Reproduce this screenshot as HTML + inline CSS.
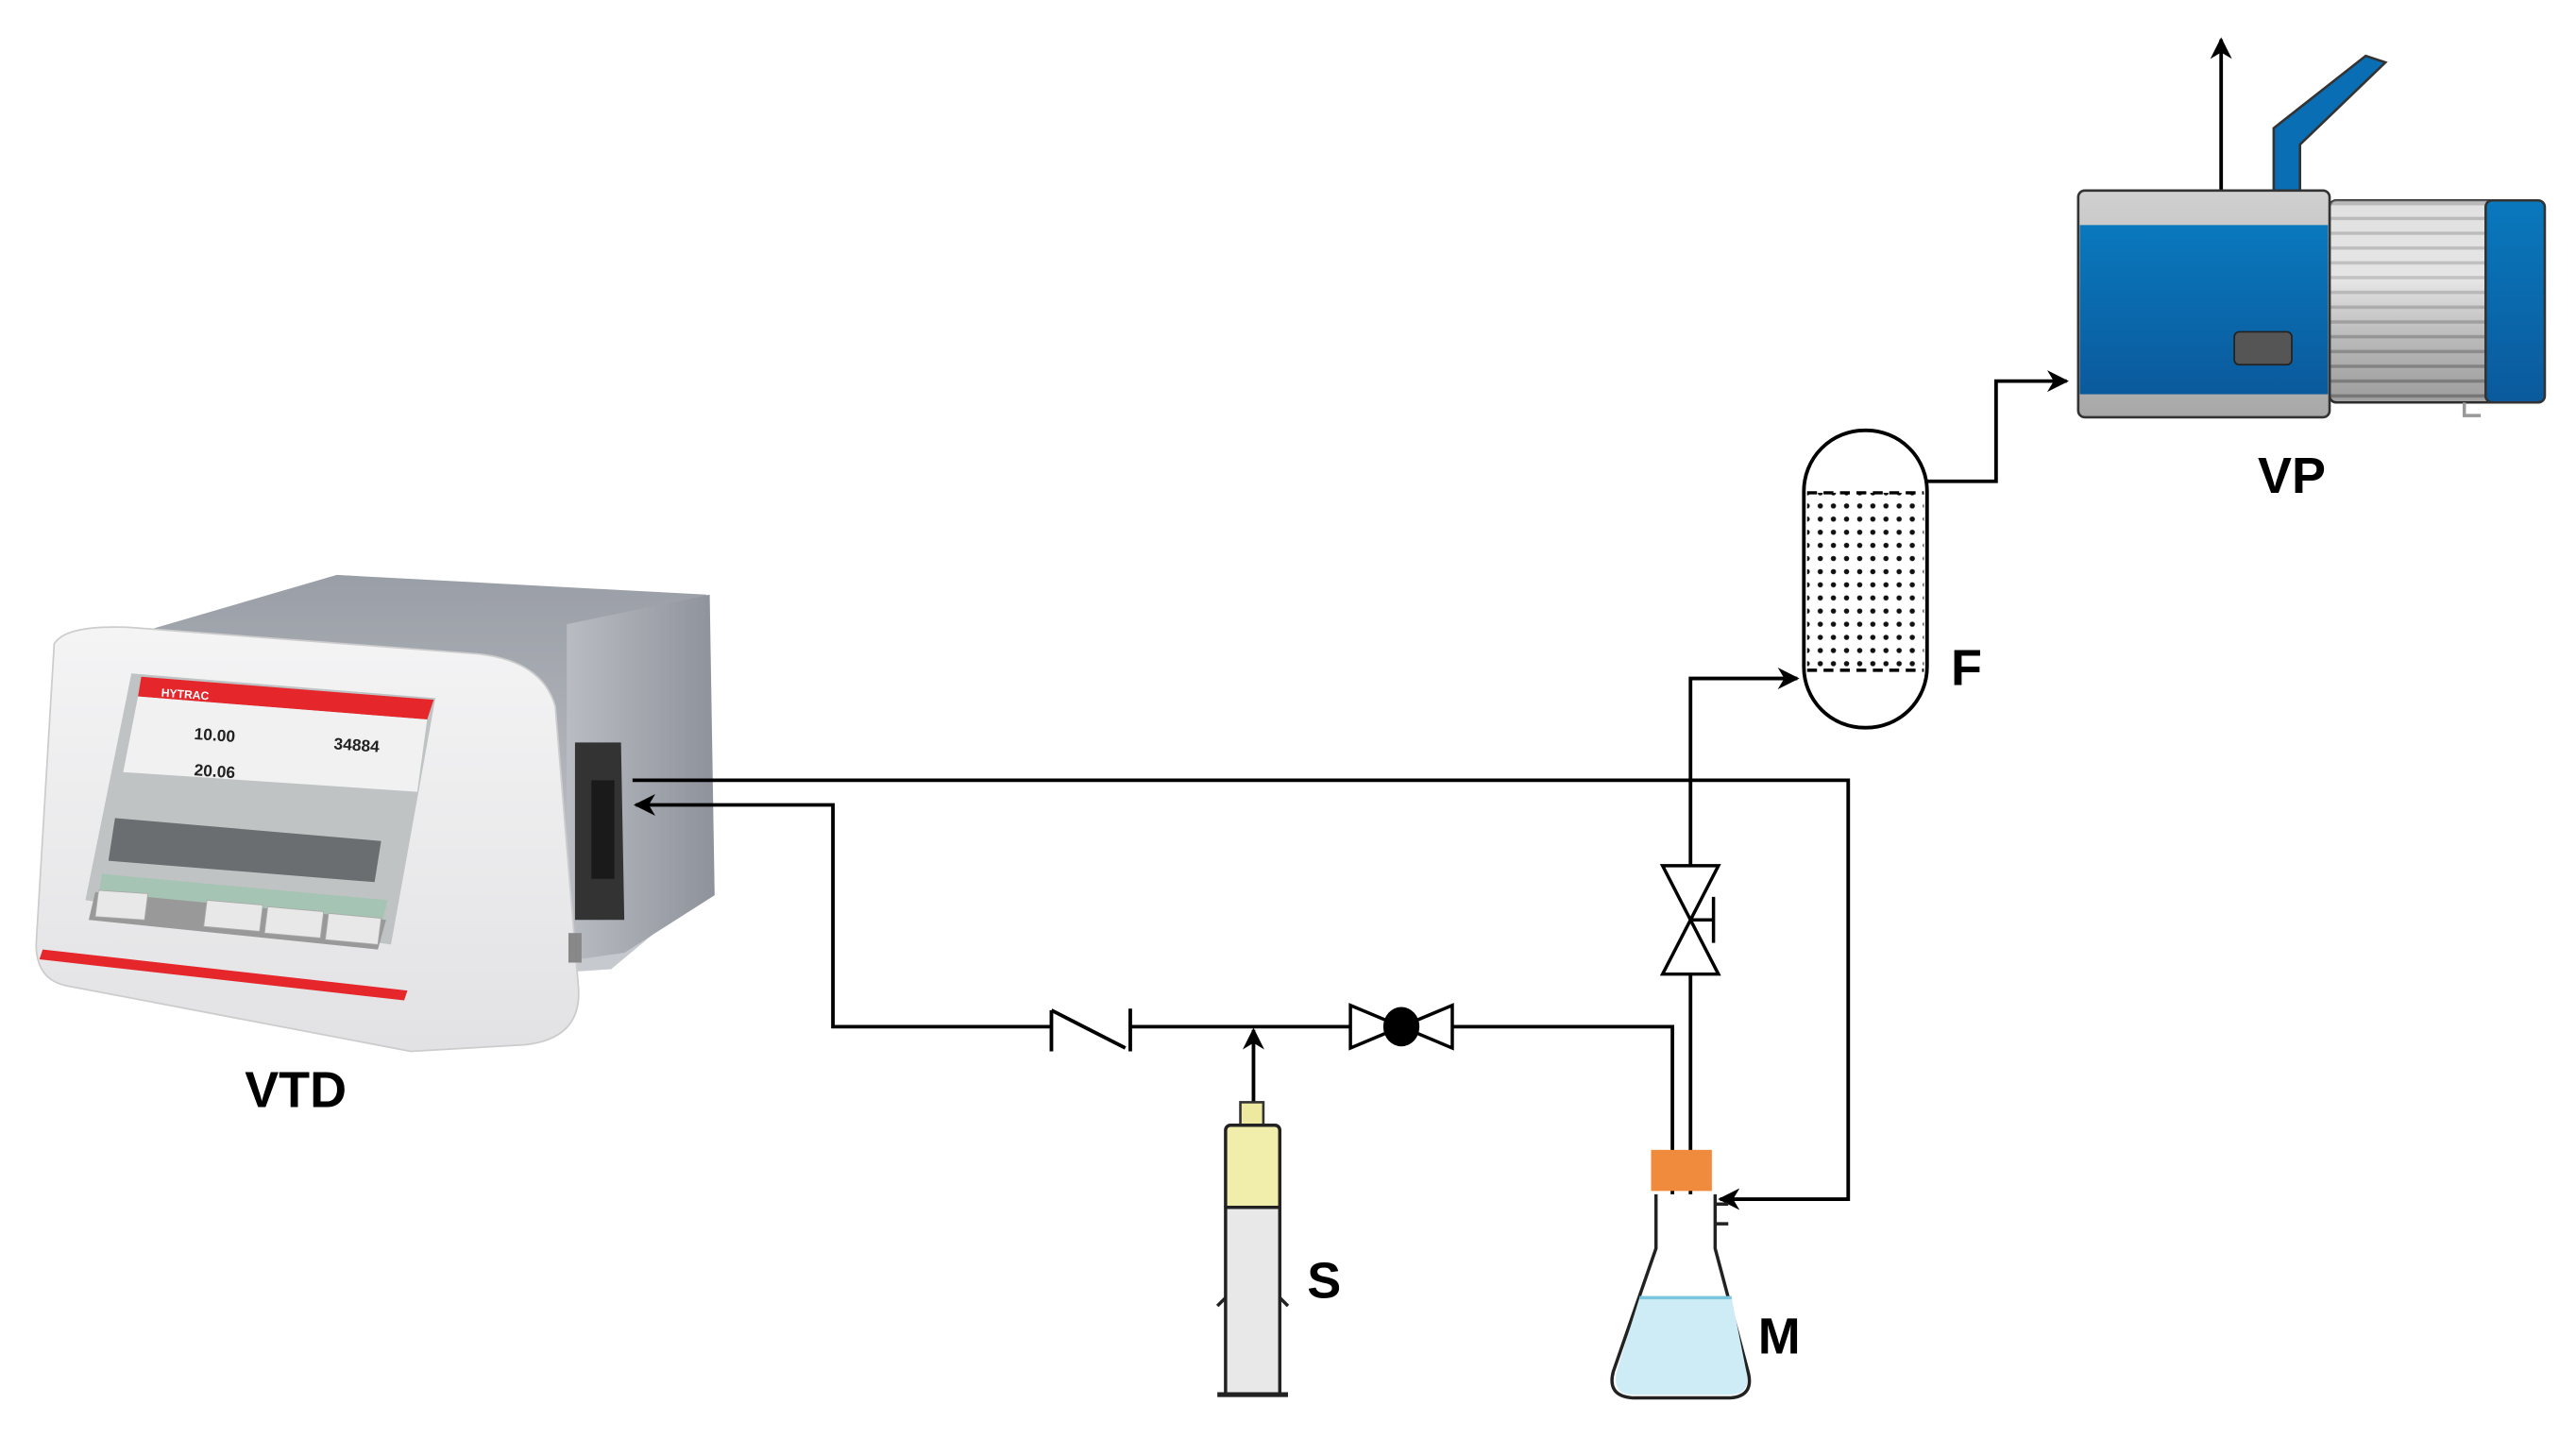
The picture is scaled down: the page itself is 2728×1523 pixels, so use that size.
<!DOCTYPE html>
<html><head><meta charset="utf-8"><style>
html,body{margin:0;padding:0;background:#fff;}
svg{display:block;}
text{font-family:"Liberation Sans",sans-serif;font-weight:bold;}
</style></head><body>
<svg width="2728" height="1523" viewBox="0 0 1568 875.4" preserveAspectRatio="none" xmlns="http://www.w3.org/2000/svg">
<defs>
<marker id="ah" viewBox="0 0 10 10" refX="9" refY="5" markerWidth="6" markerHeight="6" orient="auto"><path d="M0,0 L10,5 L0,10 L3,5 Z" fill="#000"/></marker>
<linearGradient id="side" x1="0" y1="0" x2="1" y2="0"><stop offset="0" stop-color="#b9bcc3"/><stop offset="1" stop-color="#8e929a"/></linearGradient>
<linearGradient id="top" x1="0" y1="0" x2="0" y2="1"><stop offset="0" stop-color="#9a9ea6"/><stop offset="1" stop-color="#c8cbd0"/></linearGradient>
<linearGradient id="front" x1="0" y1="0" x2="0" y2="1"><stop offset="0" stop-color="#f4f4f5"/><stop offset="1" stop-color="#e2e2e4"/></linearGradient>
<linearGradient id="blue" x1="0" y1="0" x2="0" y2="1"><stop offset="0" stop-color="#0a78bd"/><stop offset="1" stop-color="#0a5a9c"/></linearGradient>
<linearGradient id="gray" x1="0" y1="0" x2="0" y2="1"><stop offset="0" stop-color="#d0d0d0"/><stop offset="1" stop-color="#a8a8a8"/></linearGradient>
<pattern id="stripes" width="10" height="9" patternUnits="userSpaceOnUse"><rect width="10" height="9" fill="#d4d4d4"/><rect y="6" width="10" height="2" fill="#9a9a9a"/></pattern>
<linearGradient id="shade" x1="0" y1="0" x2="0" y2="1"><stop offset="0" stop-color="#fff" stop-opacity=".3"/><stop offset=".4" stop-color="#fff" stop-opacity=".4"/><stop offset="1" stop-color="#000" stop-opacity=".25"/></linearGradient>
<pattern id="dots" width="8" height="8" patternUnits="userSpaceOnUse"><circle cx="4" cy="4" r="1.6" fill="#111"/></pattern>
</defs>

<!-- VTD device -->
<path d="M85,385 L205,350 L430,362 L432,540 L372,590 L250,598 Z" fill="url(#top)"/>
<path d="M345,380 L432,362 L435,545 L380,580 L345,585 Z" fill="url(#side)"/>
<path d="M33,392 Q40,380 80,382 L290,398 Q330,402 338,430 L352,600 Q355,632 320,636 L250,640 L40,600 Q22,596 22,575 Z" fill="url(#front)" stroke="#ccc"/>
<path d="M80,410 L265,425 L238,575 L52,548 Z" fill="#bfc3c4"/>
<path d="M86,412 L264,426 L260,438 L84,424 Z" fill="#e5262a"/>
<text x="98" y="424" font-size="7" fill="#fff" transform="rotate(4 98 424)">HYTRAC</text>
<path d="M84,424 L260,438 L254,482 L75,470 Z" fill="#f1f1f1"/>
<text x="118" y="450" font-size="10" fill="#222" transform="rotate(4 118 450)">10.00</text>
<text x="203" y="456" font-size="10" fill="#222" transform="rotate(4 203 456)">34884</text>
<text x="118" y="472" font-size="10" fill="#222" transform="rotate(4 118 472)">20.06</text>
<path d="M70,498 L232,512 L228,537 L66,524 Z" fill="#6b6e70"/>
<path d="M62,532 L236,548 L233,560 L60,546 Z" fill="#a6c4b3"/>
<path d="M58,543 L235,560 L230,578 L54,560 Z" fill="#999"/>
<g fill="#e8e8e8" stroke="#aaa" stroke-width=".5">
<path d="M60,542 L90,544 L88,560 L58,558Z"/><path d="M126,548 L160,551 L158,567 L124,564Z"/><path d="M163,552 L197,555 L195,571 L161,568Z"/><path d="M200,556 L232,559 L230,575 L198,572Z"/></g>
<path d="M26,578 L248,603 L246,609 L24,584 Z" fill="#e5262a"/>
<path d="M350,452 L378,452 L380,560 L350,560 Z" fill="#333"/>
<rect x="360" y="475" width="14" height="60" fill="#1a1a1a"/>
<rect x="346" y="568" width="8" height="18" fill="#888"/>
<text x="180" y="674" font-size="31" text-anchor="middle" fill="#000">VTD</text>

<!-- lines -->
<g fill="none" stroke="#000" stroke-width="2.2">
<path d="M385,475 L1125,475 L1125,730 L1047,730" marker-end="url(#ah)"/>
<path d="M640,625 L507,625 L507,490 L387,490" marker-end="url(#ah)"/>
<path d="M688,625 L822,625"/>
<path d="M884,625 L1018,625 L1018,815"/>
<path d="M763,682 L763,627" marker-end="url(#ah)"/>
<path d="M1029,800 L1029,593"/>
<path d="M1029,527 L1029,413 L1094,413" marker-end="url(#ah)"/>
<path d="M1173,293 L1215,293 L1215,232 L1258,232" marker-end="url(#ah)"/>
<path d="M1352,117 L1352,24" marker-end="url(#ah)"/>
<path d="M640,615 L640,640 M640,615 L685,638 M688,614 L688,640"/>
</g>
<path d="M822,612 L822,638 L884,612 L884,638 Z" fill="#fff" stroke="#000" stroke-width="2"/>
<ellipse cx="853" cy="625" rx="11" ry="12" fill="#000"/>
<path d="M1012,527 L1046,527 L1012,593 L1046,593 Z" fill="#fff" stroke="#000" stroke-width="2"/>
<path d="M1029,560 L1043,560 M1043,546 L1043,574" stroke="#000" stroke-width="2"/>

<!-- syringe -->
<rect x="755" y="671" width="14" height="16" fill="#eee9a0" stroke="#333" stroke-width="1.5"/>
<rect x="746" y="685" width="33" height="52" rx="3" fill="#f0eeaa" stroke="#222" stroke-width="2"/>
<rect x="746" y="735" width="33" height="114" fill="#e8e8e8" stroke="#222" stroke-width="2"/>
<path d="M741,849 L784,849" stroke="#222" stroke-width="3"/>
<path d="M741,795 L746,790 M784,795 L779,790" stroke="#222" stroke-width="2"/>
<text x="806" y="790" font-size="31" text-anchor="middle">S</text>

<!-- flask -->
<path d="M1008,727 L1008,760 L982,835 Q978,850 994,851 L1053,851 Q1068,850 1064,835 L1044,760 L1044,727" fill="#fff" stroke="#222" stroke-width="2"/>
<path d="M998,790 L1054,790 L1063,835 Q1066,849 1053,849 L994,849 Q981,849 984,835 Z" fill="#cdecf6"/>
<path d="M998,790 L1054,790" stroke="#7ac6de" stroke-width="2"/>
<rect x="1005" y="700" width="37" height="25" fill="#f08a3c"/>
<path d="M1044,733 L1052,733 M1044,745 L1052,745" stroke="#222" stroke-width="2"/>
<text x="1083" y="824" font-size="31" text-anchor="middle">M</text>

<!-- filter F -->
<rect x="1098" y="262" width="75" height="181" rx="37" fill="#fff" stroke="#000" stroke-width="2.2"/>
<rect x="1100" y="300" width="71" height="108" fill="url(#dots)"/>
<path d="M1100,300 L1171,300 M1100,408 L1171,408" stroke="#000" stroke-width="2" stroke-dasharray="6,4"/>
<text x="1197" y="417" font-size="31" text-anchor="middle">F</text>

<!-- vacuum pump -->
<path d="M1384,118 L1384,78 L1440,34 L1452,38 L1400,88 L1400,118 Z" fill="#0a6eb4" stroke="#333" stroke-width="1.5"/>
<rect x="1418" y="122" width="130" height="123" rx="4" fill="url(#stripes)" stroke="#333" stroke-width="1.5"/>
<rect x="1418" y="122" width="130" height="123" rx="4" fill="url(#shade)"/>
<rect x="1513" y="122" width="36" height="123" rx="4" fill="url(#blue)" stroke="#333" stroke-width="1.5"/>
<rect x="1265" y="116" width="153" height="138" rx="4" fill="url(#gray)" stroke="#333" stroke-width="1.5"/>
<rect x="1266" y="137" width="151" height="103" fill="url(#blue)"/>
<rect x="1360" y="202" width="35" height="20" rx="3" fill="#555" stroke="#222"/>
<path d="M1500,245 L1500,253 L1510,253" stroke="#999" stroke-width="2" fill="none"/>
<text x="1395" y="300" font-size="31" text-anchor="middle">VP</text>
</svg>
</body></html>
